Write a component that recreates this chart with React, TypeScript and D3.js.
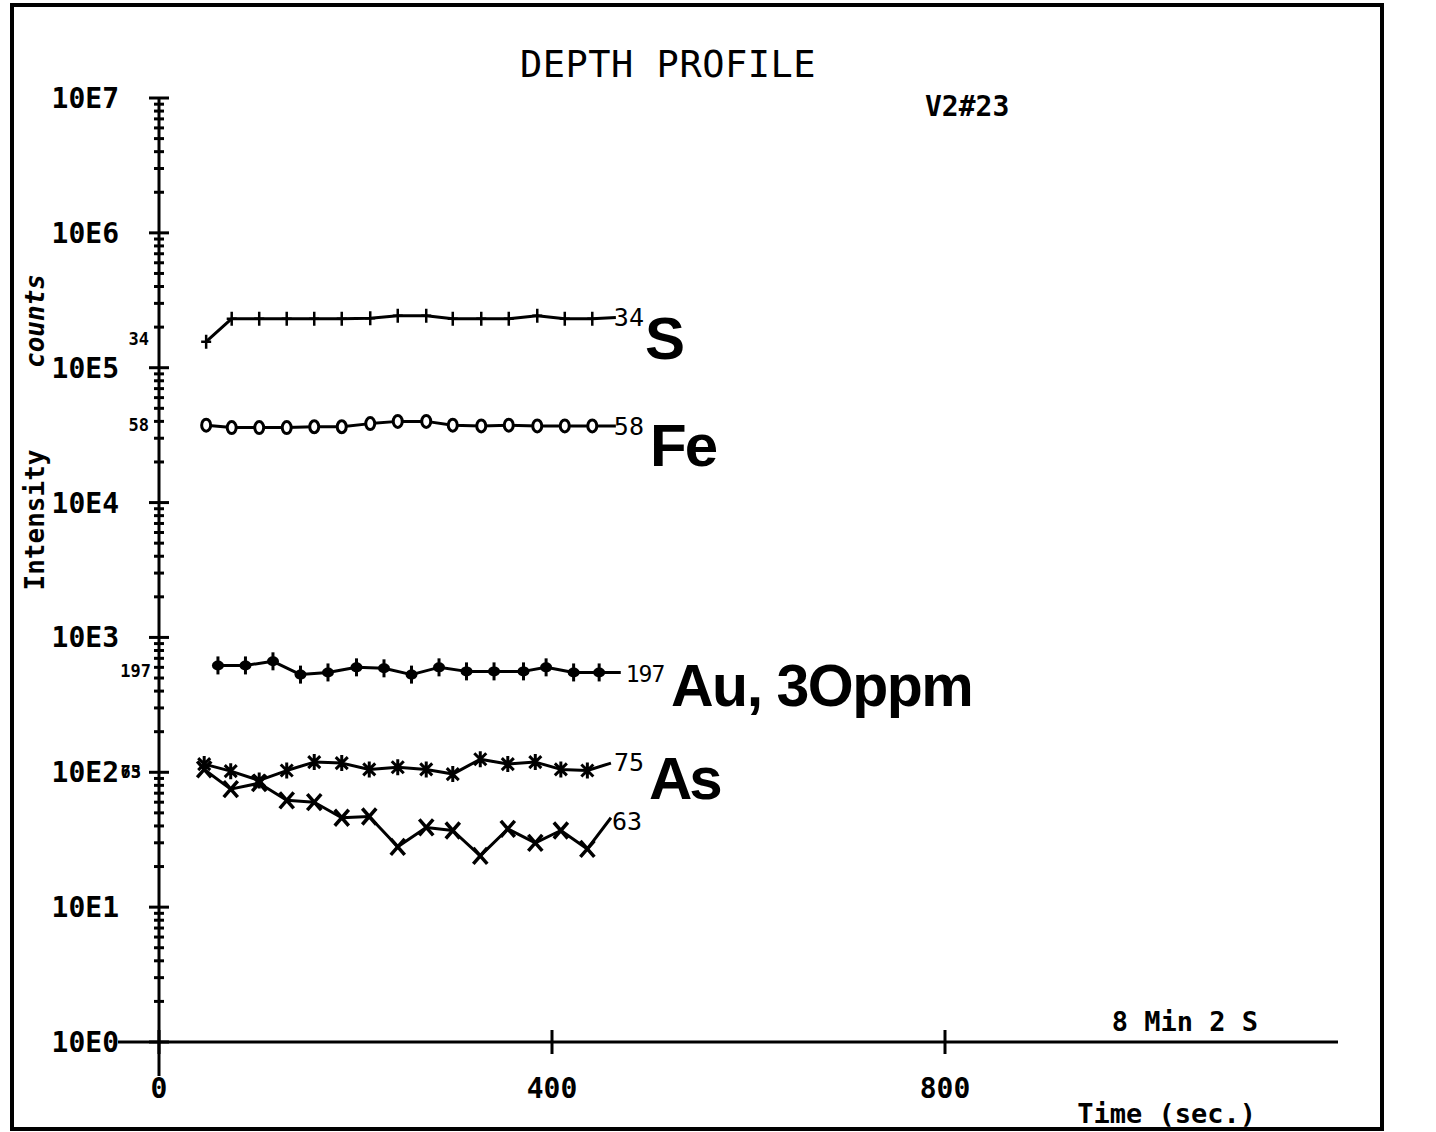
import * as d3 from "d3";

const decadeValues = [1, 10, 100, 1e3, 1e4, 1e5, 1e6, 1e7];
const decadeLabels = ["10E0", "10E1", "10E2", "10E3", "10E4", "10E5", "10E6", "10E7"];
const timeTicks = [0, 400, 800];
const timeTickLabels = ["0", "400", "800"];

// sulphur 34 and iron 58 share the same sampling times
const sTimes = [48, 74, 102, 130, 158, 186, 215, 243, 272, 299, 328, 356, 385, 413, 441, 465];
const s34 = [156000, 231000, 231000, 231000, 231000, 231000, 233000, 243000, 243000, 231000, 231000, 231000, 243000, 231000, 231000, 236000];
const fe58 = [37500, 36000, 36000, 36000, 36500, 36500, 38500, 40000, 40000, 37500, 37000, 37500, 37000, 37000, 37000, 37000];

const auTimes = [60, 88, 116, 144, 172, 201, 229, 257, 285, 313, 341, 371, 394, 422, 448, 470];
const au197 = [620, 620, 665, 530, 550, 600, 590, 530, 600, 560, 560, 560, 600, 550, 550, 550];

const asTimes = [46, 73, 102, 130, 158, 186, 214, 243, 272, 299, 327, 355, 383, 409, 436, 460];
const as75 = [115, 102, 87, 103, 119, 117, 105, 109, 105, 97, 125, 115, 119, 105, 103, 117];
const as63 = [105, 75, 83, 62, 60, 46, 47, 28, 39, 37, 24, 38, 30, 37, 27, 46];

const seriesNames = ["34", "58", "197", "75", "63"];
const elementNames = ["S", "Fe", "Au, 3Oppm", "As"];

const width = 1436;
const height = 1132;
const mono = "'DejaVu Sans Mono', monospace";

const x = d3.scaleLinear([0, 1200], [159, 1338]);
const y = d3.scaleLog([1, 1e7], [1042, 98]);

const Marker = ({ kind }: { kind: string }) => {
  if (kind === "plus") return <path d="M0,-7V7M-5,0H5" stroke="black" strokeWidth={2.5} />;
  if (kind === "circle")
    return <ellipse rx={4.5} ry={6} fill="white" stroke="black" strokeWidth={3} />;
  if (kind === "dot")
    return (
      <g>
        <ellipse rx={6} ry={5} fill="black" />
        <path d="M0,-9V9" stroke="black" strokeWidth={3} />
      </g>
    );
  if (kind === "star") return <path d="M-6,-6L6,6M6,-6L-6,6M0,-8V8" stroke="black" strokeWidth={3} />;
  return <path d="M-7,-8L7,8M7,-8L-7,8" stroke="black" strokeWidth={3.5} />;
};

const Series = ({ times, values, kind }: { times: number[]; values: number[]; kind: string }) => {
  const pts: [number, number][] = times.map((t, i) => [x(t), y(values[i])]);
  const line = d3.line();
  return (
    <g>
      <path d={line(pts) ?? ""} fill="none" stroke="black" strokeWidth={3} strokeLinejoin="round" />
      {pts.slice(0, -1).map((p, i) => (
        <g key={i} transform={`translate(${p[0]},${p[1]})`}>
          <Marker kind={kind} />
        </g>
      ))}
    </g>
  );
};

export default function App() {
  const minorTicks: number[] = [];
  decadeValues.slice(0, -1).forEach((d) => {
    for (let k = 2; k < 10; k++) minorTicks.push(k * d);
  });
  const x0 = x(0);
  const last = (arr: number[]) => arr[arr.length - 1];

  return (
    <svg
      width={width}
      height={height}
      style={{ position: "absolute", left: 0, top: 0, background: "white" }}
    >
      {/* frame */}
      <rect x={12} y={5} width={1370} height={1124} fill="none" stroke="black" strokeWidth={4} />

      <text x={668} y={77} textAnchor="middle" fontFamily={mono} fontSize={37} letterSpacing={0.5}>
        DEPTH PROFILE
      </text>
      <text x={925} y={116} fontFamily={mono} fontSize={28} fontWeight="bold">
        V2#23
      </text>

      {/* y axis */}
      <line x1={x0} x2={x0} y1={y(1e7)} y2={1076} stroke="black" strokeWidth={3} />
      {decadeValues.map((d, i) => (
        <g key={d}>
          <line x1={x0 - 10} x2={x0 + 10} y1={y(d)} y2={y(d)} stroke="black" strokeWidth={3} />
          <text
            x={119}
            y={y(d) + 10}
            textAnchor="end"
            fontFamily={mono}
            fontSize={28}
            fontWeight="bold"
          >
            {decadeLabels[i]}
          </text>
        </g>
      ))}
      {minorTicks.map((v) => (
        <line key={v} x1={x0 - 5} x2={x0 + 5} y1={y(v)} y2={y(v)} stroke="black" strokeWidth={3} />
      ))}

      <text
        transform="translate(44,520) rotate(-90)"
        textAnchor="middle"
        fontFamily={mono}
        fontSize={26}
        fontWeight="bold"
      >
        Intensity
      </text>
      <text
        transform="translate(44,321) rotate(-90)"
        textAnchor="middle"
        fontFamily={mono}
        fontSize={26}
        fontWeight="bold"
        fontStyle="italic"
      >
        counts
      </text>

      {/* x axis */}
      <line x1={118} x2={x(1200)} y1={y(1)} y2={y(1)} stroke="black" strokeWidth={3} />
      {timeTicks.map((t, i) => (
        <g key={t}>
          <line x1={x(t)} x2={x(t)} y1={y(1) - 12} y2={y(1) + 12} stroke="black" strokeWidth={3} />
          <text
            x={x(t)}
            y={1098}
            textAnchor="middle"
            fontFamily={mono}
            fontSize={28}
            fontWeight="bold"
          >
            {timeTickLabels[i]}
          </text>
        </g>
      ))}
      <text x={1258} y={1031} textAnchor="end" fontFamily={mono} fontSize={27} fontWeight="bold">
        8 Min 2 S
      </text>
      <text x={1256} y={1123} textAnchor="end" fontFamily={mono} fontSize={27} fontWeight="bold">
        Time (sec.)
      </text>

      {/* series */}
      <Series times={sTimes} values={s34} kind="plus" />
      <Series times={sTimes} values={fe58} kind="circle" />
      <Series times={auTimes} values={au197} kind="dot" />
      <Series times={asTimes} values={as75} kind="star" />
      <Series times={asTimes} values={as63} kind="x" />

      {/* small labels at the start of each trace */}
      <g fontFamily={mono} fontSize={17} fontWeight="bold" textAnchor="end">
        <text x={149} y={y(s34[0]) + 3}>{seriesNames[0]}</text>
        <text x={149} y={y(fe58[0]) + 6}>{seriesNames[1]}</text>
        <text x={151} y={y(au197[0]) + 12}>{seriesNames[2]}</text>
        <text x={141} y={y(100) + 6}>{seriesNames[3]}</text>
        <text x={141} y={y(100) + 6}>{seriesNames[4]}</text>
      </g>

      {/* labels at the end of each trace */}
      <g fontFamily={mono} fontSize={25}>
        <text x={x(last(sTimes)) - 2} y={y(last(s34)) + 9}>{seriesNames[0]}</text>
        <text x={x(last(sTimes)) - 2} y={y(last(fe58)) + 9}>{seriesNames[1]}</text>
        <text x={x(last(auTimes)) + 5} y={y(last(au197)) + 10} fontSize={23} letterSpacing={-1}>
          {seriesNames[2]}
        </text>
        <text x={x(last(asTimes)) + 3} y={y(last(as75)) + 8}>{seriesNames[3]}</text>
        <text x={x(last(asTimes)) + 1} y={y(last(as63)) + 12}>{seriesNames[4]}</text>
      </g>

      <g fontFamily="'Liberation Sans', Arial, sans-serif" fontWeight="bold" fontSize={60}>
        <text x={645} y={359} letterSpacing={-1}>{elementNames[0]}</text>
        <text x={650} y={466} letterSpacing={-2}>{elementNames[1]}</text>
        <text x={671} y={706} fontSize={59} letterSpacing={-1.5}>{elementNames[2]}</text>
        <text x={649} y={799} letterSpacing={-3}>{elementNames[3]}</text>
      </g>
    </svg>
  );
}
